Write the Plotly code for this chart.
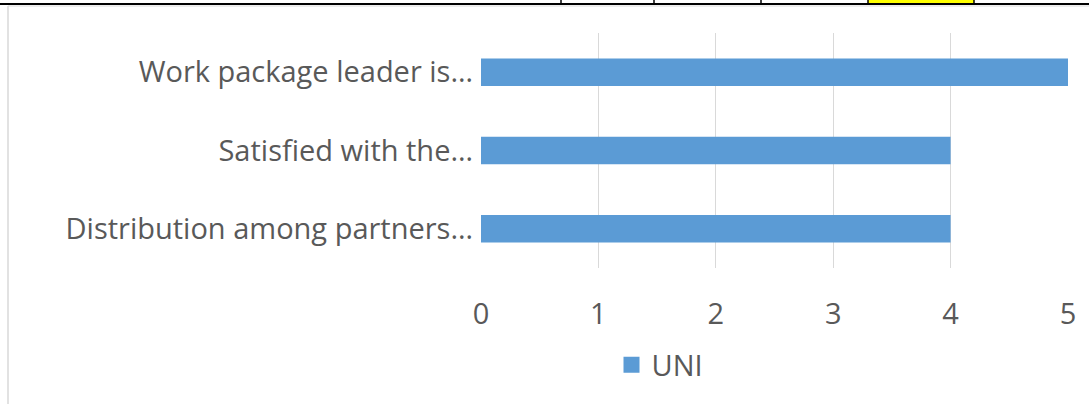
import plotly.graph_objects as go

categories = ["Distribution among partners…", "Satisfied with the…", "Work package leader is…"]
uni_values = [4, 4, 5]
x_ticks = [0, 1, 2, 3, 4, 5]
series_name = "UNI"

W, H = 1089, 404
L, R, T, B = 481, 1068, 33, 268
bar_color = "#5B9BD5"

def px(x):
    return (x - L) / (R - L)

def py(y):
    return (B - y) / (B - T)

fig = go.Figure()
fig.add_trace(go.Bar(
    y=categories, x=uni_values, orientation="h", name=series_name,
    marker=dict(color=bar_color, line=dict(width=0)), width=0.35, showlegend=False,
))
# legend entry with a larger square swatch
fig.add_trace(go.Scatter(
    x=[None], y=[None], mode="markers", name=series_name,
    marker=dict(symbol="square", size=19, color=bar_color, line=dict(width=0)),
))

font_family = "Open Sans, sans-serif"
grey = "#595959"
fs = 29

shapes = []
shapes.append(dict(type="rect", xref="paper", yref="paper", x0=px(868), x1=px(974), y0=py(0), y1=py(3),
                   fillcolor="#FFFF00", line=dict(width=0)))
shapes.append(dict(type="line", xref="paper", yref="paper", x0=px(0), x1=px(W), y0=py(4), y1=py(4),
                   line=dict(color="black", width=2), layer="above"))
for xv in [561, 654, 761, 868, 974]:
    shapes.append(dict(type="line", xref="paper", yref="paper", x0=px(xv), x1=px(xv), y0=py(0), y1=py(4),
                       line=dict(color="black", width=1.5)))
shapes.append(dict(type="line", xref="paper", yref="paper", x0=px(8), x1=px(8), y0=py(6), y1=py(H),
                   line=dict(color="#d9d9d9", width=1.5)))
shapes.append(dict(type="line", xref="paper", yref="paper", x0=px(8), x1=px(W), y0=py(6), y1=py(6),
                   line=dict(color="#d9d9d9", width=1)))

fig.update_layout(
    width=W, height=H,
    margin=dict(l=L, r=W - R, t=T, b=H - B),
    paper_bgcolor="white", plot_bgcolor="white",
    font=dict(family=font_family, color=grey, size=fs),
    xaxis=dict(range=[0, 5], tickvals=x_ticks, showgrid=True, gridcolor="#d9d9d9", gridwidth=1,
               zeroline=False, showline=False, ticks="", ticklabelstandoff=26,
               tickfont=dict(size=fs, color=grey)),
    yaxis=dict(showgrid=False, zeroline=False, showline=False, ticks="", ticklabelstandoff=7,
               tickfont=dict(size=fs, color=grey), categoryorder="array", categoryarray=categories),
    showlegend=True,
    legend=dict(orientation="h", x=px(660), xanchor="center", y=py(365), yanchor="middle",
                font=dict(size=fs, color=grey), itemsizing="trace", itemwidth=30),
    shapes=shapes,
)

fig.write_html("out.html", config={"displayModeBar": False},
               post_script="document.body.style.margin='0';")
